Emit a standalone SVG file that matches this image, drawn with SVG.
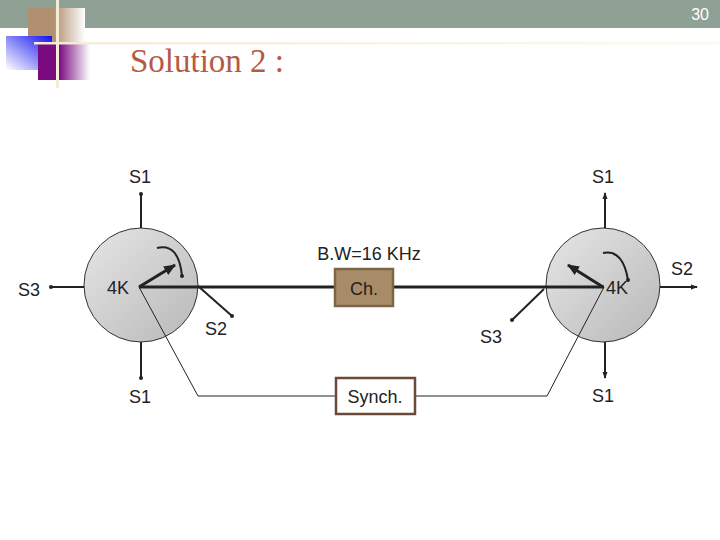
<svg xmlns="http://www.w3.org/2000/svg" width="720" height="540" viewBox="0 0 720 540">
<defs>
<linearGradient id="tanG" x1="0" y1="0" x2="1" y2="0"><stop offset="0" stop-color="#b09070"/><stop offset="0.45" stop-color="#b09070"/><stop offset="1" stop-color="#ffffff"/></linearGradient>
<linearGradient id="blueG" x1="1" y1="0" x2="0" y2="1"><stop offset="0" stop-color="#1010f0"/><stop offset="1" stop-color="#ffffff"/></linearGradient>
<linearGradient id="purpG" x1="0" y1="0" x2="1" y2="0"><stop offset="0" stop-color="#7a0a80"/><stop offset="0.4" stop-color="#7a0a80"/><stop offset="1" stop-color="#ffffff"/></linearGradient>
<linearGradient id="hlineG" x1="0" y1="0" x2="1" y2="0"><stop offset="0" stop-color="#f4ecd6"/><stop offset="1" stop-color="#f4ecd6" stop-opacity="0.3"/></linearGradient>
<linearGradient id="discG" x1="0" y1="0" x2="1" y2="1"><stop offset="0" stop-color="#e6e6e6"/><stop offset="1" stop-color="#b8b8b8"/></linearGradient>
<marker id="dot" markerWidth="6" markerHeight="6" refX="3" refY="3" markerUnits="userSpaceOnUse"><circle cx="3" cy="3" r="2" fill="#222"/></marker>
<marker id="arr" markerWidth="8" markerHeight="8" refX="6" refY="4" orient="auto" markerUnits="userSpaceOnUse"><path d="M0,1.5 L7,4 L0,6.5 Z" fill="#222"/></marker>
<marker id="bigArr" markerWidth="14" markerHeight="14" refX="11" refY="7" orient="auto" markerUnits="userSpaceOnUse"><path d="M0,2 L12,7 L0,12 Z" fill="#222"/></marker>
</defs>
<style>
.lbl{font-family:"Liberation Sans",Arial,sans-serif;font-size:18px;fill:#222}
.thick{stroke:#222;stroke-width:3;fill:none}
.med{stroke:#222;stroke-width:2;fill:none}
.thin{stroke:#222;stroke-width:1;fill:none}
.disc{fill:url(#discG);stroke:#333;stroke-width:1}
</style>
<g id="header">
<rect x="0" y="0" width="720" height="28" fill="#8fa095"/>
<text x="709" y="20" text-anchor="end" style="font-family:'Liberation Sans',Arial,sans-serif;font-size:16px;fill:#ffffff">30</text>
<rect x="28" y="8" width="57" height="37" fill="url(#tanG)"/>
<rect x="6" y="36" width="46" height="34" fill="url(#blueG)"/>
<rect x="38" y="44" width="52" height="36" fill="url(#purpG)"/>
<rect x="56" y="0" width="3" height="88" fill="#f4ecd6"/>
<rect x="34" y="42" width="686" height="2.5" fill="url(#hlineG)"/>
<text x="130" y="72" style="font-family:'Liberation Serif','Times New Roman',serif;font-size:33px;fill:#b55a45">Solution 2 :</text>
</g>
<g id="node-left">
<circle class="disc" cx="141" cy="285" r="57"/>
<line class="med" x1="141" y1="228" x2="141" y2="194" marker-end="url(#dot)"/>
<line class="med" x1="141" y1="342" x2="141" y2="378" marker-end="url(#dot)"/>
<line class="med" x1="84" y1="287" x2="51" y2="287" marker-end="url(#dot)"/>
<line class="med" x1="198" y1="286" x2="232" y2="316" marker-end="url(#dot)"/>
<text class="lbl" x="107" y="294">4K</text>
<text class="lbl" x="140" y="183" text-anchor="middle">S1</text>
<text class="lbl" x="140" y="403" text-anchor="middle">S1</text>
<text class="lbl" x="18" y="296">S3</text>
<text class="lbl" x="216" y="335" text-anchor="middle">S2</text>
</g>
<g id="node-right">
<circle class="disc" cx="603" cy="285" r="57"/>
<line class="med" x1="605" y1="228" x2="605" y2="193" marker-end="url(#arr)"/>
<line class="med" x1="605" y1="342" x2="605" y2="378" marker-end="url(#arr)"/>
<line class="med" x1="660" y1="287" x2="697" y2="287" marker-end="url(#arr)"/>
<line class="med" x1="544" y1="289" x2="512" y2="320" marker-end="url(#dot)"/>
<text class="lbl" x="606" y="294">4K</text>
<text class="lbl" x="603" y="183" text-anchor="middle">S1</text>
<text class="lbl" x="603" y="402" text-anchor="middle">S1</text>
<text class="lbl" x="682" y="275" text-anchor="middle">S2</text>
<text class="lbl" x="491" y="343" text-anchor="middle">S3</text>
</g>
<g id="connectors">
<line class="thick" x1="139" y1="287" x2="335" y2="287"/>
<line class="thick" x1="393" y1="287" x2="604" y2="287"/>
<polyline class="thin" points="139,287 198,396 336,396"/>
<polyline class="thin" points="415,396 547,396 604,287"/>
<line class="thick" x1="139" y1="287" x2="175" y2="265" marker-end="url(#bigArr)"/>
<path class="med" d="M157,248 C172,244 180,255 182,276" marker-end="url(#dot)"/>
<line class="thick" x1="603" y1="287" x2="568" y2="265" marker-end="url(#bigArr)"/>
<path class="med" d="M603,253 C618,250 625,262 628,280" marker-end="url(#dot)"/>
</g>
<g id="channel">
<rect x="335" y="269" width="58" height="37" fill="#a88c68" stroke="#7d6548" stroke-width="2.5"/>
<text class="lbl" x="364" y="295" text-anchor="middle">Ch.</text>
<text class="lbl" x="369" y="260" text-anchor="middle">B.W=16 KHz</text>
</g>
<g id="synch">
<rect x="336" y="378" width="79" height="36" fill="#ffffff" stroke="#6b4a3a" stroke-width="2.5"/>
<text class="lbl" x="375" y="403" text-anchor="middle">Synch.</text>
</g>
</svg>
